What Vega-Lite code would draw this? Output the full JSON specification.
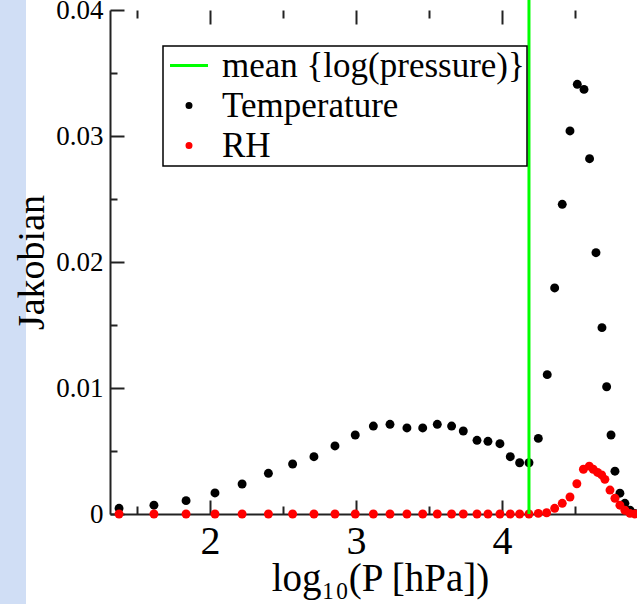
{
  "$schema": "https://vega.github.io/schema/vega-lite/v6.json",
  "width": 611,
  "height": 604,
  "autosize": {"type": "none"},
  "padding": {"left": 26, "top": 0, "right": 0, "bottom": 0},
  "background": "#d0def5",
  "config": {
    "view": {"fill": "white", "stroke": null},
    "font": "Liberation Serif",
    "legend": {"strokeWidth": 1.5}
  },
  "data": {"values": [
    {"series": "Temperature", "x": 1.377, "y": 0.00045},
    {"series": "Temperature", "x": 1.616, "y": 0.0007},
    {"series": "Temperature", "x": 1.836, "y": 0.00106},
    {"series": "Temperature", "x": 2.034, "y": 0.00167},
    {"series": "Temperature", "x": 2.22, "y": 0.00238},
    {"series": "Temperature", "x": 2.4, "y": 0.00323},
    {"series": "Temperature", "x": 2.566, "y": 0.00397},
    {"series": "Temperature", "x": 2.712, "y": 0.00455},
    {"series": "Temperature", "x": 2.856, "y": 0.0054},
    {"series": "Temperature", "x": 2.995, "y": 0.00627},
    {"series": "Temperature", "x": 3.119, "y": 0.00698},
    {"series": "Temperature", "x": 3.233, "y": 0.00712},
    {"series": "Temperature", "x": 3.349, "y": 0.00683},
    {"series": "Temperature", "x": 3.457, "y": 0.00683},
    {"series": "Temperature", "x": 3.557, "y": 0.00712},
    {"series": "Temperature", "x": 3.655, "y": 0.00698},
    {"series": "Temperature", "x": 3.735, "y": 0.00659},
    {"series": "Temperature", "x": 3.829, "y": 0.00585},
    {"series": "Temperature", "x": 3.904, "y": 0.00577},
    {"series": "Temperature", "x": 3.986, "y": 0.00558},
    {"series": "Temperature", "x": 4.057, "y": 0.00455},
    {"series": "Temperature", "x": 4.121, "y": 0.00407},
    {"series": "Temperature", "x": 4.185, "y": 0.00407},
    {"series": "Temperature", "x": 4.249, "y": 0.006},
    {"series": "Temperature", "x": 4.31, "y": 0.01106},
    {"series": "Temperature", "x": 4.361, "y": 0.01794},
    {"series": "Temperature", "x": 4.413, "y": 0.02458},
    {"series": "Temperature", "x": 4.466, "y": 0.0304},
    {"series": "Temperature", "x": 4.516, "y": 0.0341},
    {"series": "Temperature", "x": 4.562, "y": 0.0337},
    {"series": "Temperature", "x": 4.6, "y": 0.0282},
    {"series": "Temperature", "x": 4.644, "y": 0.02074},
    {"series": "Temperature", "x": 4.685, "y": 0.01479},
    {"series": "Temperature", "x": 4.717, "y": 0.0101},
    {"series": "Temperature", "x": 4.747, "y": 0.00627},
    {"series": "Temperature", "x": 4.774, "y": 0.0034},
    {"series": "Temperature", "x": 4.808, "y": 0.00165},
    {"series": "Temperature", "x": 4.842, "y": 0.00085},
    {"series": "Temperature", "x": 4.877, "y": 0.0003},
    {"series": "Temperature", "x": 4.91, "y": 0.00005},
    {"series": "RH", "x": 1.377, "y": 0},
    {"series": "RH", "x": 1.616, "y": 0},
    {"series": "RH", "x": 1.836, "y": 0},
    {"series": "RH", "x": 2.034, "y": 0},
    {"series": "RH", "x": 2.22, "y": 0},
    {"series": "RH", "x": 2.4, "y": 0},
    {"series": "RH", "x": 2.566, "y": 0},
    {"series": "RH", "x": 2.712, "y": 0},
    {"series": "RH", "x": 2.856, "y": 0},
    {"series": "RH", "x": 2.995, "y": 0},
    {"series": "RH", "x": 3.119, "y": 0},
    {"series": "RH", "x": 3.233, "y": 0},
    {"series": "RH", "x": 3.349, "y": 0},
    {"series": "RH", "x": 3.457, "y": 0},
    {"series": "RH", "x": 3.557, "y": 0},
    {"series": "RH", "x": 3.655, "y": 0},
    {"series": "RH", "x": 3.735, "y": 0},
    {"series": "RH", "x": 3.829, "y": 0},
    {"series": "RH", "x": 3.904, "y": 0},
    {"series": "RH", "x": 3.986, "y": 0},
    {"series": "RH", "x": 4.057, "y": 0},
    {"series": "RH", "x": 4.121, "y": 0},
    {"series": "RH", "x": 4.185, "y": 0},
    {"series": "RH", "x": 4.249, "y": 0.00005},
    {"series": "RH", "x": 4.306, "y": 0.0001},
    {"series": "RH", "x": 4.361, "y": 0.00045},
    {"series": "RH", "x": 4.413, "y": 0.00085},
    {"series": "RH", "x": 4.466, "y": 0.00135},
    {"series": "RH", "x": 4.513, "y": 0.0024},
    {"series": "RH", "x": 4.558, "y": 0.00355},
    {"series": "RH", "x": 4.598, "y": 0.0038},
    {"series": "RH", "x": 4.625, "y": 0.00355},
    {"series": "RH", "x": 4.655, "y": 0.0033},
    {"series": "RH", "x": 4.683, "y": 0.0031},
    {"series": "RH", "x": 4.705, "y": 0.00275},
    {"series": "RH", "x": 4.74, "y": 0.0019},
    {"series": "RH", "x": 4.774, "y": 0.00125},
    {"series": "RH", "x": 4.808, "y": 0.0007},
    {"series": "RH", "x": 4.842, "y": 0.0003},
    {"series": "RH", "x": 4.877, "y": 0.00005},
    {"series": "RH", "x": 4.911, "y": 0},
    {"series": "mean {log(pressure)}", "x": 4.185}
  ]},
  "resolve": {"axis": {"x": "independent", "y": "independent"}},
  "layer": [
    {
      "transform": [{"filter": {"field": "series", "oneOf": ["Temperature", "RH"]}}],
      "mark": {"type": "point", "filled": true, "opacity": 1, "size": 80},
      "encoding": {
        "x": {
          "field": "x", "type": "quantitative",
          "scale": {"domain": [1.315, 4.925], "range": [84, 611], "nice": false, "zero": false},
          "axis": {
            "orient": "bottom", "offset": -90,
            "values": [1.5, 2, 2.5, 3, 3.5, 4, 4.5],
            "grid": false,
            "domainColor": "#222", "domainWidth": 2,
            "tickColor": "#222", "tickWidth": 2,
            "tickSize": {"condition": {"test": "datum.value % 1 === 0", "value": -14}, "value": -8},
            "labelExpr": "datum.value % 1 === 0 ? '' + datum.value : ''",
            "labelFont": "Liberation Serif", "labelFontSize": 40, "labelColor": "black",
            "labelBaseline": "alphabetic", "labelPadding": 53,
            "labelFlush": false, "labelOverlap": false,
            "title": "log₁₀(P [hPa])",
            "titleFont": "Liberation Serif", "titleFontSize": 39, "titleFontWeight": "normal", "titleColor": "black",
            "titleX": 354, "titleY": 76, "titleBaseline": "alphabetic", "titleAlign": "center"
          }
        },
        "y": {
          "field": "y", "type": "quantitative",
          "scale": {"domain": [0, 0.04], "range": [514, 10], "nice": false, "zero": false},
          "axis": {
            "orient": "left", "offset": -84,
            "values": [0, 0.005, 0.01, 0.015, 0.02, 0.025, 0.03, 0.035, 0.04],
            "grid": false,
            "domainColor": "#222", "domainWidth": 2,
            "tickColor": "#222", "tickWidth": 2,
            "tickSize": {"condition": {"test": "round(datum.value * 200) % 2 === 0", "value": -14}, "value": -7},
            "labelExpr": "round(datum.value * 200) % 2 === 0 ? format(datum.value, '~g') : ''",
            "labelFont": "Liberation Serif", "labelFontSize": 27, "labelColor": "black",
            "labelBaseline": "middle", "labelPadding": 21,
            "labelFlush": false, "labelOverlap": false,
            "title": "Jakobian",
            "titleFont": "Liberation Serif", "titleFontSize": 38, "titleFontWeight": "normal", "titleColor": "black",
            "titleAngle": 270, "titleX": -67, "titleY": 262, "titleBaseline": "alphabetic", "titleAlign": "center"
          }
        },
        "color": {
          "field": "series", "type": "nominal",
          "scale": {"domain": ["mean {log(pressure)}", "Temperature", "RH"], "range": ["#00ff00", "#000000", "#ff0000"]},
          "legend": {
            "title": null, "orient": "none", "legendX": 137, "legendY": 46,
            "fillColor": "white", "strokeColor": "black", "padding": 2, "cornerRadius": 0,
            "labelFont": "Liberation Serif", "labelFontSize": 35, "labelColor": "black", "labelLimit": 0,
            "rowPadding": 4, "symbolSize": 16, "symbolStrokeWidth": 3,
            "symbolOffset": 6.5, "labelOffset": 15.5, "symbolOpacity": 1,
            "encode": {"symbols": {"update": {
              "stroke": {"scale": "color", "field": "value"},
              "fill": {"scale": "color", "field": "value"}
            }}}
          }
        },
        "shape": {
          "field": "series", "type": "nominal",
          "scale": {"domain": ["mean {log(pressure)}", "Temperature", "RH"], "range": ["M-9.5,0H9.5", "circle", "circle"]}
        }
      }
    },
    {
      "transform": [{"filter": {"field": "series", "equal": "mean {log(pressure)}"}}],
      "mark": {"type": "rule", "strokeWidth": 3},
      "encoding": {
        "x": {
          "field": "x", "type": "quantitative",
          "axis": {
            "orient": "top", "offset": -10,
            "values": [1.5, 2, 2.5, 3, 3.5, 4, 4.5],
            "grid": false, "domain": false, "labels": false,
            "tickColor": "#222", "tickWidth": 2,
            "tickSize": {"condition": {"test": "datum.value % 1 === 0", "value": -14}, "value": -8},
            "title": null
          }
        },
        "y": {"datum": 0, "type": "quantitative", "axis": null},
        "y2": {"datum": 0.0408},
        "color": {"field": "series", "type": "nominal"}
      }
    }
  ]
}
